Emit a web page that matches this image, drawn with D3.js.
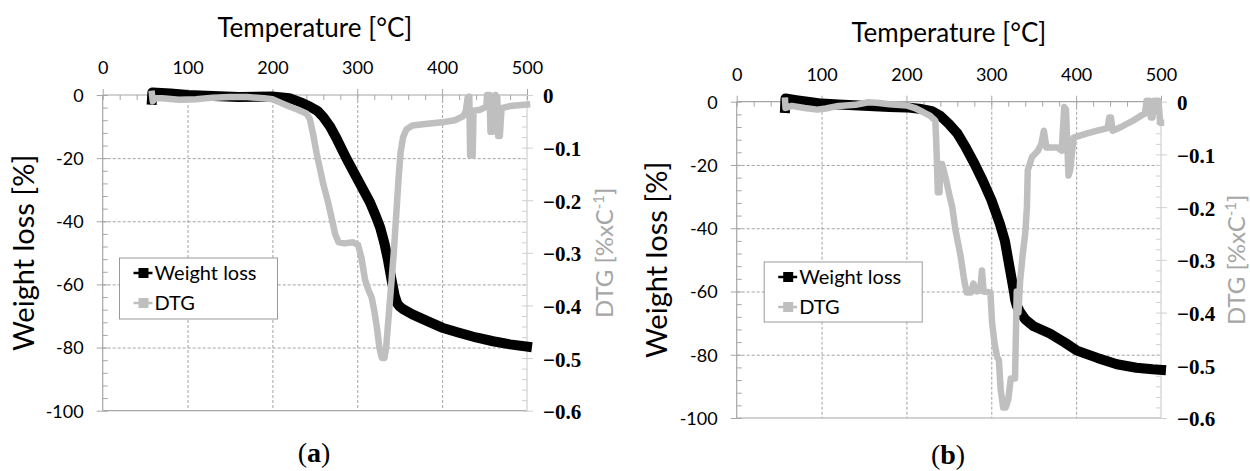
<!DOCTYPE html>
<html><head><meta charset="utf-8">
<script src="https://cdn.jsdelivr.net/npm/d3@7"></script>
<style>body{margin:0;background:#fff} svg{display:block}</style>
</head><body><svg id="c" width="1250" height="471"></svg>
<script>
// ---------- data ----------
const xTickValues = [0, 100, 200, 300, 400, 500];
const yLeftTickValues = [0, -20, -40, -60, -80, -100];
const yRightTickValues = [0, -0.1, -0.2, -0.3, -0.4, -0.5, -0.6];
const seriesNames = ["Weight loss", "DTG"];
const panelLabels = ["a", "b"];
const xTitle = "Temperature [°C]";
const yLeftTitle = "Weight loss [%]";

// panel (a)
const tempWeightA = [58, 58.5, 80, 100, 130, 160, 200, 220, 235, 245, 253, 260, 268, 276, 287, 295, 305, 315, 322, 327, 332, 336, 340, 344, 347, 350, 355, 365, 380, 400, 420, 440, 460, 480, 500];
const weightA = [-1.5, 0.8, 0.5, 0, -0.3, -0.6, -0.5, -1, -2.5, -3.8, -5, -7, -10, -14, -20, -24, -29, -34, -38.5, -42, -47, -52, -58, -63.5, -66, -67, -68, -69.5, -71.3, -73.7, -75.3, -76.8, -78, -79, -79.7];
const tempDtgA = [58, 59, 62, 70, 90, 110, 130, 150, 170, 190, 200, 210, 220, 230, 240, 244, 248, 252, 256, 260, 265, 270, 274, 278, 285, 295, 301, 305, 309, 313, 317, 320, 323, 326, 329, 332, 334, 336, 338, 340, 343, 345, 347, 349, 351, 354, 358, 365, 380, 400, 415, 425, 428, 430, 432, 433, 436, 437, 445, 452, 453, 456, 457, 459, 460, 463, 465, 466, 468, 470, 480, 500];
const dtgA = [0.002, -0.012, -0.006, -0.006, -0.009, -0.008, -0.005, -0.004, -0.004, -0.006, -0.008, -0.015, -0.022, -0.028, -0.035, -0.045, -0.075, -0.11, -0.14, -0.17, -0.2, -0.235, -0.265, -0.28, -0.282, -0.28, -0.285, -0.31, -0.35, -0.37, -0.385, -0.41, -0.44, -0.48, -0.5, -0.5, -0.48, -0.44, -0.4, -0.36, -0.3, -0.25, -0.2, -0.15, -0.11, -0.08, -0.065, -0.058, -0.055, -0.052, -0.048, -0.04, -0.03, -0.005, -0.003, -0.115, -0.115, -0.03, -0.028, -0.022, 0, 0, -0.07, -0.07, -0.01, 0, -0.005, -0.078, -0.078, -0.025, -0.021, -0.018];

// panel (b)
const tempWeightB = [57, 57.5, 70, 90, 100, 120, 150, 180, 200, 215, 230, 240, 250, 260, 270, 280, 290, 300, 310, 316, 322, 327, 328, 330, 334, 340, 350, 369, 387, 401, 425, 448, 471, 490, 500];
const weightB = [-2, 1, 0.5, -0.2, -0.6, -0.9, -1.3, -1.7, -1.8, -2.2, -3, -4.5, -7, -10, -14.5, -19.5, -25, -31, -38.5, -44, -53, -60.5, -62.5, -64.5, -66.5, -68.8, -71, -73.3, -76.2, -78.7, -81, -83, -84.1, -84.6, -84.8];
const tempDtgB = [57, 57.5, 65, 80, 95, 105, 120, 140, 155, 165, 180, 200, 210, 220, 228, 234, 235, 236, 237, 239, 240, 242, 247, 251, 254, 258, 264, 268, 271, 276, 279, 283, 287, 289, 291, 299, 301, 304, 307, 309, 311, 314, 317, 320, 323, 328, 330, 332, 334, 337, 340, 342, 343, 348, 355, 359, 362, 365, 378, 383, 386, 388, 391, 393, 397, 411, 425, 437, 439, 441, 443, 453, 467, 478, 481, 483, 486, 488, 490, 492, 497, 499, 500];
const dtgB = [0.002, -0.012, -0.008, -0.012, -0.015, -0.013, -0.008, -0.006, -0.001, -0.002, -0.005, -0.007, -0.012, -0.02, -0.027, -0.036, -0.07, -0.118, -0.172, -0.172, -0.118, -0.118, -0.15, -0.18, -0.2, -0.245, -0.294, -0.338, -0.362, -0.362, -0.345, -0.36, -0.358, -0.32, -0.36, -0.362, -0.42, -0.46, -0.485, -0.49, -0.545, -0.58, -0.58, -0.565, -0.525, -0.525, -0.36, -0.4, -0.34, -0.29, -0.25, -0.2, -0.13, -0.105, -0.093, -0.08, -0.055, -0.087, -0.087, -0.093, -0.01, -0.015, -0.14, -0.13, -0.068, -0.061, -0.055, -0.05, -0.03, -0.03, -0.055, -0.048, -0.036, -0.025, -0.023, 0.002, 0.002, -0.03, -0.03, 0.002, 0.002, -0.04, -0.04];

// ---------- drawing ----------
const svg = d3.select("#c");
const SANS = "Lato, 'Open Sans', sans-serif";
const SERIF = "'Liberation Serif', 'Times New Roman', serif";
const AXIS_COL = "#a6a6a6";
const GRID_COL = "#8c8c8c";
const DTG_COL = "#bfbfbf";

const panels = [
  {L: {left: 102.7, right: 527, top: 95, bottom: 410.7}, tw: tempWeightA, w: weightA, td: tempDtgA, d: dtgA,
   titleY: 28, yTitleX: 24, rTitleX: 605, legend: {x: 119.5, y: 258, w: 158, h: 61}, capX: 314, capY: 452},
  {L: {left: 736.7, right: 1161, top: 101.7, bottom: 418}, tw: tempWeightB, w: weightB, td: tempDtgB, d: dtgB,
   titleY: 33, yTitleX: 657, rTitleX: 1237, legend: {x: 764.2, y: 262, w: 158, h: 60}, capX: 948, capY: 454}
];

function styleAxis(sel) {
  sel.select(".domain").remove();
  sel.selectAll(".tick line").attr("stroke", AXIS_COL).attr("stroke-width", 1);
}

panels.forEach((p, i) => {
  const L = p.L;
  const g = svg.append("g");
  const x = d3.scaleLinear().domain([0, 500]).range([L.left, L.right]);
  const yl = d3.scaleLinear().domain([-100, 0]).range([L.bottom, L.top]);
  const yr = d3.scaleLinear().domain([-0.6, 0]).range([L.bottom, L.top]);

  // gridlines
  g.append("g").call(d3.axisBottom(x).tickValues(xTickValues.filter(v => v > 0 && v < 500))
      .tickSize(L.bottom - L.top).tickFormat(""))
    .attr("transform", `translate(0,${L.top})`)
    .call(s => { s.select(".domain").remove(); s.selectAll(".tick line").attr("stroke", GRID_COL).attr("stroke-dasharray", "3,2").attr("stroke-width", 0.8); });
  g.append("g").call(d3.axisRight(yl).tickValues(yLeftTickValues.filter(v => v < 0 && v > -100))
      .tickSize(L.right - L.left).tickFormat(""))
    .attr("transform", `translate(${L.left},0)`)
    .call(s => { s.select(".domain").remove(); s.selectAll(".tick line").attr("stroke", GRID_COL).attr("stroke-dasharray", "3,2").attr("stroke-width", 0.8); });

  // axis lines (frame)
  const frame = g.append("g").attr("stroke", AXIS_COL).attr("stroke-width", 1.2);
  frame.append("line").attr("x1", x(0)).attr("x2", x(500)).attr("y1", yl(0)).attr("y2", yl(0));
  frame.append("line").attr("x1", x(0)).attr("x2", x(500)).attr("y1", yl(-100)).attr("y2", yl(-100));
  frame.append("line").attr("x1", x(0)).attr("x2", x(0)).attr("y1", yl(0)).attr("y2", yl(-100));
  frame.append("line").attr("x1", x(500)).attr("x2", x(500)).attr("y1", yl(0)).attr("y2", yl(-100)).attr("stroke", "#d0d0d0");

  // top axis: major outward, minor inward
  g.append("g").attr("transform", `translate(0,${L.top})`)
    .call(d3.axisBottom(x).tickValues(d3.range(0, 26).map(k => k * 20)).tickSize(5).tickFormat(""))
    .call(styleAxis);
  const topAx = g.append("g").attr("transform", `translate(0,${L.top})`)
    .call(d3.axisTop(x).tickValues(xTickValues).tickSize(6).tickFormat(d3.format("d")))
    .call(styleAxis);
  topAx.selectAll("text").attr("y", -27).attr("dy", "0.35em")
    .attr("font-family", SANS).attr("font-size", 18).attr("fill", "#000");

  // left axis
  g.append("g").attr("transform", `translate(${L.left},0)`)
    .call(d3.axisRight(yl).tickValues(d3.range(0, 26).map(k => -k * 4)).tickSize(5).tickFormat(""))
    .call(styleAxis);
  const leftAx = g.append("g").attr("transform", `translate(${L.left},0)`)
    .call(d3.axisLeft(yl).tickValues(yLeftTickValues).tickSize(6).tickFormat(d3.format("d")))
    .call(styleAxis);
  leftAx.selectAll("text").attr("x", -19).attr("dy", "0.35em")
    .attr("font-family", SANS).attr("font-size", 18).attr("fill", "#000").text(v => String(v));

  // right axis
  g.append("g").attr("transform", `translate(${L.right},0)`)
    .call(d3.axisLeft(yr).tickValues(d3.range(0, 31).map(k => -k * 0.02)).tickSize(5).tickFormat(""))
    .call(styleAxis)
    .call(s => s.selectAll(".tick line").attr("stroke", "#d0d0d0"));
  const rightAx = g.append("g").attr("transform", `translate(${L.right},0)`)
    .call(d3.axisRight(yr).tickValues(yRightTickValues).tickSize(6).tickFormat(v => v === 0 ? "0" : "\u2212" + Math.abs(v).toFixed(1)))
    .call(styleAxis)
    .call(s => s.selectAll(".tick line").attr("stroke", "#d0d0d0"));
  rightAx.selectAll("text").attr("x", 16).attr("dy", "0.38em").attr("text-anchor", "start")
    .attr("font-family", SERIF).attr("font-weight", "bold").attr("font-size", 21).attr("fill", "#000");

  // series
  const lineW = d3.line().x((t, k) => x(t)).y((t, k) => yl(p.w[k]));
  g.append("path").attr("d", lineW(p.tw)).attr("fill", "none").attr("stroke", "#000")
    .attr("stroke-width", 10).attr("stroke-linejoin", "round").attr("stroke-linecap", "square");
  const lineD = d3.line().x((t, k) => x(t)).y((t, k) => yr(p.d[k]));
  g.append("path").attr("d", lineD(p.td)).attr("fill", "none").attr("stroke", DTG_COL)
    .attr("stroke-width", 6.5).attr("stroke-linejoin", "round").attr("stroke-linecap", "square");

  // titles
  g.append("text").attr("x", (L.left + L.right) / 2).attr("y", p.titleY).attr("dy", "0.35em")
    .attr("text-anchor", "middle").attr("font-family", SANS).attr("font-size", 26).text(xTitle);
  g.append("text").attr("transform", `translate(${p.yTitleX},${(L.top + L.bottom) / 2}) rotate(-90)`)
    .attr("dy", "0.35em").attr("text-anchor", "middle").attr("font-family", SANS).attr("font-size", 29).text(yLeftTitle);
  const rt = g.append("text").attr("transform", `translate(${p.rTitleX},${(L.top + L.bottom) / 2}) rotate(-90)`)
    .attr("dy", "0.35em").attr("text-anchor", "middle").attr("font-family", SANS).attr("font-size", 24).attr("fill", "#a6a6a6");
  rt.append("tspan").text("DTG [%xC");
  rt.append("tspan").attr("font-size", 15).attr("dy", -9).text("-1");
  rt.append("tspan").attr("dy", 9).text("]");

  // legend
  const lg = g.append("g").attr("transform", `translate(${p.legend.x},${p.legend.y})`);
  lg.append("rect").attr("width", p.legend.w).attr("height", p.legend.h).attr("fill", "#fff").attr("stroke", "#999").attr("stroke-width", 1);
  const items = [{name: seriesNames[0], col: "#000", yy: 15}, {name: seriesNames[1], col: DTG_COL, yy: 45}];
  items.forEach(it => {
    lg.append("line").attr("x1", 14).attr("x2", 33).attr("y1", it.yy).attr("y2", it.yy).attr("stroke", it.col).attr("stroke-width", 2.5);
    lg.append("rect").attr("x", 19).attr("y", it.yy - 5).attr("width", 10).attr("height", 10).attr("fill", it.col);
    lg.append("text").attr("x", 35).attr("y", it.yy).attr("dy", "0.35em").attr("font-family", SANS).attr("font-size", 20).text(it.name);
  });

  // caption
  const cap = g.append("text").attr("x", p.capX).attr("y", p.capY).attr("dy", "0.35em").attr("text-anchor", "middle")
    .attr("font-family", SERIF).attr("font-size", 28);
  cap.append("tspan").text("(");
  cap.append("tspan").attr("font-weight", "bold").text(panelLabels[i]);
  cap.append("tspan").text(")");
});
</script></body></html>
